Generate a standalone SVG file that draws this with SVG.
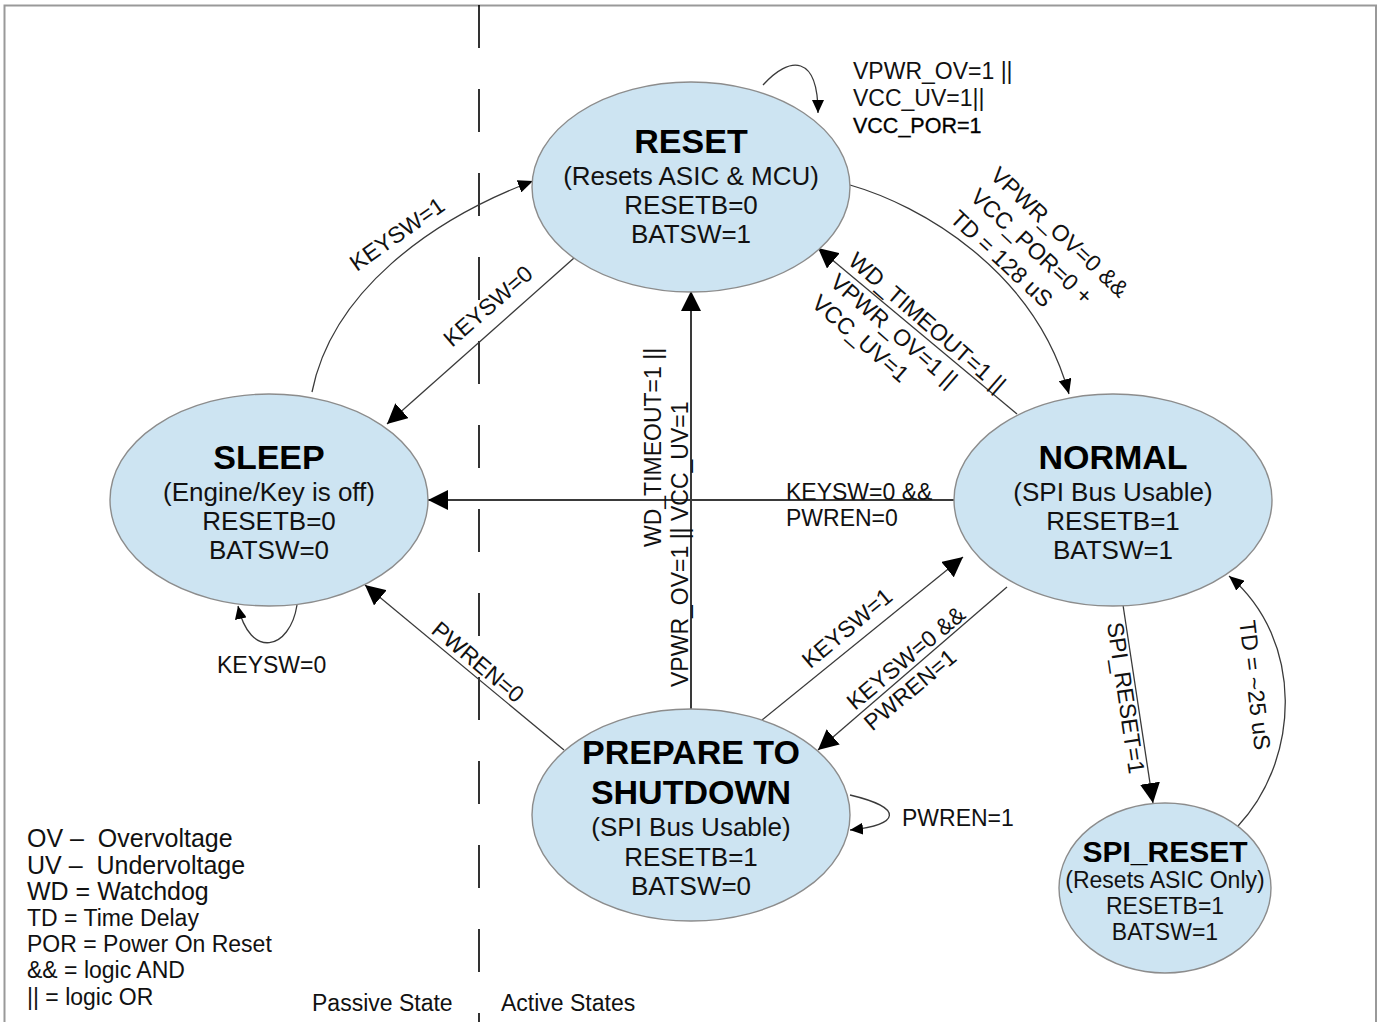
<svg xmlns="http://www.w3.org/2000/svg" width="1378" height="1022" viewBox="0 0 1378 1022">
<style>
text{font-family:"Liberation Sans",Arial,sans-serif;fill:#111}
.state{fill:#cde4f2;stroke:#8c8c8c;stroke-width:1.4}
.title{font-size:34px;font-weight:bold;text-anchor:middle;fill:#000}
.body{font-size:26px;text-anchor:middle}
.sbody{font-size:23px;text-anchor:middle}
.lbl{font-size:23px}
.lg{font-size:25px}
.mid{text-anchor:middle}
.edge{fill:none;stroke:#3a3a3a;stroke-width:1.3}
.thick{stroke-width:2}
</style>
<defs>
<marker id="big" markerUnits="userSpaceOnUse" markerWidth="20" markerHeight="20" viewBox="0 0 20 20" refX="20" refY="10" orient="auto"><path d="M0,0 L20,10 L0,20 Z" fill="#000"/></marker>
<marker id="med" markerUnits="userSpaceOnUse" markerWidth="15" markerHeight="13" viewBox="0 0 15 13" refX="15" refY="6.5" orient="auto"><path d="M0,0 L15,6.5 L0,13 Z" fill="#000"/></marker>
<marker id="sm" markerUnits="userSpaceOnUse" markerWidth="13" markerHeight="12" viewBox="0 0 13 12" refX="13" refY="6" orient="auto"><path d="M0,0 L13,6 L0,12 Z" fill="#000"/></marker>
</defs>
<rect x="0" y="0" width="1378" height="1022" fill="#fff"/>
<rect x="4.5" y="5.5" width="1371.5" height="1030" fill="none" stroke="#999" stroke-width="2"/>
<line x1="479" y1="5" x2="479" y2="1022" stroke="#000" stroke-width="1.6" stroke-dasharray="43 41"/>

<g id="connectors">
<path class="edge" d="M763,85 C790,55 818,55 818,113" marker-end="url(#sm)"/>
<path class="edge" d="M850,185 C920,205 1035,270 1069,394" marker-end="url(#med)"/>
<path class="edge" d="M1017,414 L818,248" marker-end="url(#big)"/>
<path class="edge" d="M574,258 L387,424" marker-end="url(#big)"/>
<path class="edge" d="M312,392 C332,292 430,220 533,181" marker-end="url(#med)"/>
<path class="edge thick" d="M954,500 L428,500" marker-end="url(#big)"/>
<path class="edge thick" d="M691,710 L691,291" marker-end="url(#big)"/>
<path class="edge" d="M564,750 L365,585" marker-end="url(#big)"/>
<path class="edge" d="M762,720 L963,557" marker-end="url(#big)"/>
<path class="edge" d="M1007,587 L818,750" marker-end="url(#big)"/>
<path class="edge" d="M1123,605 L1153,803" marker-end="url(#big)"/>
<path class="edge" d="M1238,826 C1300,760 1305,640 1229,576" marker-end="url(#med)"/>
<path class="edge" d="M297,605 C290,650 250,660 238,606" marker-end="url(#sm)"/>
<path class="edge" d="M850,795 C905,808 900,825 850,830" marker-end="url(#sm)"/>

<text class="lbl" x="853" y="79">VPWR_OV=1 ||</text>
<text class="lbl" x="853" y="106">VCC_UV=1||</text>
<text class="lbl" x="853" y="133" style="font-size:21.5px;fill:#000;stroke:#000;stroke-width:0.3">VCC_POR=1</text>
<g transform="translate(989,177) rotate(43)"><text class="lbl" x="0" y="0">VPWR_OV=0 &amp;&amp;</text><text class="lbl" x="0" y="29.5">VCC_POR=0 +</text><text class="lbl" x="0" y="59">TD = 128 uS</text></g>
<g transform="translate(847,263) rotate(41)"><text class="lbl" x="0" y="0">WD_TIMEOUT=1 ||</text><text class="lbl" x="0" y="28">VPWR_OV=1 ||</text><text class="lbl" x="0" y="56">VCC_UV=1</text></g>
<text class="lbl mid" transform="translate(488,306) rotate(-41)" y="8">KEYSW=0</text>
<text class="lbl mid" transform="translate(397,234) rotate(-35)" y="8">KEYSW=1</text>
<text class="lbl mid" transform="translate(478,662) rotate(40)" y="8">PWREN=0</text>
<text class="lbl mid" transform="translate(847,628) rotate(-40)" y="8">KEYSW=1</text>
<g transform="translate(855,711) rotate(-40)"><text class="lbl" x="0" y="0">KEYSW=0 &amp;&amp;</text><text class="lbl" x="0" y="27">PWREN=1</text></g>
<text class="lbl mid" transform="translate(1126,698) rotate(81.6)" y="8">SPI_RESET=1</text>
<text class="lbl mid" transform="translate(1255,685) rotate(83.2)" y="8">TD = ~25 uS</text>
<text class="lbl" transform="translate(661,547) rotate(-90)">WD_TIMEOUT=1 ||</text>
<text class="lbl" transform="translate(688,687) rotate(-90)">VPWR_OV=1 || VCC_UV=1</text>
<text class="lbl" x="786" y="500">KEYSW=0 &amp;&amp;</text>
<text class="lbl" x="786" y="526">PWREN=0</text>
<text class="lbl" x="217" y="673">KEYSW=0</text>
<text class="lbl" x="902" y="826">PWREN=1</text>
</g>

<g id="reset">
<ellipse class="state" cx="691" cy="187" rx="159" ry="105"/>
<text class="title" x="691" y="153">RESET</text>
<text class="body" x="691" y="185">(Resets ASIC &amp; MCU)</text>
<text class="body" x="691" y="214">RESETB=0</text>
<text class="body" x="691" y="243">BATSW=1</text>
</g>
<g id="sleep">
<ellipse class="state" cx="269" cy="500" rx="159" ry="106"/>
<text class="title" x="269" y="469">SLEEP</text>
<text class="body" x="269" y="501">(Engine/Key is off)</text>
<text class="body" x="269" y="530">RESETB=0</text>
<text class="body" x="269" y="559">BATSW=0</text>
</g>
<g id="normal">
<ellipse class="state" cx="1113" cy="500" rx="159" ry="106"/>
<text class="title" x="1113" y="469">NORMAL</text>
<text class="body" x="1113" y="501">(SPI Bus Usable)</text>
<text class="body" x="1113" y="530">RESETB=1</text>
<text class="body" x="1113" y="559">BATSW=1</text>
</g>
<g id="prepare">
<ellipse class="state" cx="691" cy="815" rx="159" ry="106"/>
<text class="title" x="691" y="764">PREPARE TO</text>
<text class="title" x="691" y="804">SHUTDOWN</text>
<text class="body" x="691" y="836">(SPI Bus Usable)</text>
<text class="body" x="691" y="866">RESETB=1</text>
<text class="body" x="691" y="895">BATSW=0</text>
</g>
<g id="spi_reset">
<ellipse class="state" cx="1165" cy="888" rx="106" ry="85"/>
<text class="title" x="1165" y="862" style="font-size:30px">SPI_RESET</text>
<text class="sbody" x="1165" y="888">(Resets ASIC Only)</text>
<text class="sbody" x="1165" y="914">RESETB=1</text>
<text class="sbody" x="1165" y="940">BATSW=1</text>
</g>

<g id="legend">
<text class="lg" x="27" y="847" xml:space="preserve">OV –  Overvoltage</text>
<text class="lg" x="27" y="874" xml:space="preserve">UV –  Undervoltage</text>
<text class="lg" x="27" y="900">WD = Watchdog</text>
<text class="lbl" x="27" y="926">TD = Time Delay</text>
<text class="lbl" x="27" y="952">POR = Power On Reset</text>
<text class="lbl" x="27" y="978">&amp;&amp; = logic AND</text>
<text class="lbl" x="27" y="1005">|| = logic OR</text>
<text class="lbl" x="312" y="1011">Passive State</text>
<text class="lbl" x="501" y="1011">Active States</text>
</g>
</svg>
